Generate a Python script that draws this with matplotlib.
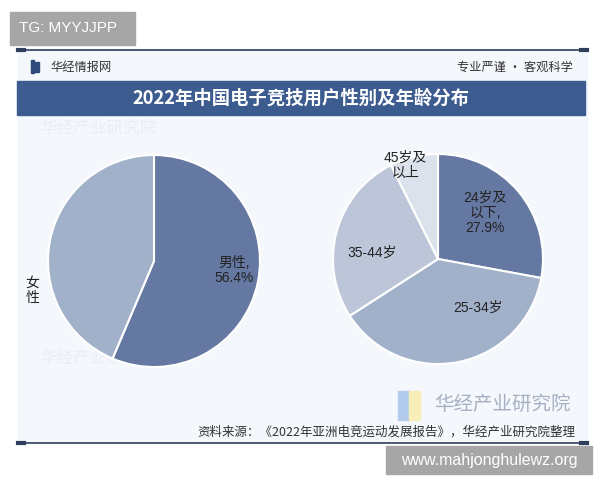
import matplotlib.pyplot as plt
from matplotlib.patches import Rectangle

plt.rcParams['font.family'] = ['Noto Sans CJK SC', 'DejaVu Sans']
LAT = ['Liberation Sans', 'Noto Sans CJK SC']

# data
gender_labels = ['男性,\n56.4%', '女\n性']
gender_share = [56.4, 43.6]
gender_colors = ['#6578a2', '#a2b1ca']

age_labels = ['24岁及\n以下,\n27.9%', '25-34岁', '35-44岁', '45岁及\n以上']
age_share = [27.9, 38.0, 26.7, 7.4]
age_colors = ['#6578a2', '#a2b1ca', '#bcc6d8', '#dce2eb']

# label spots, in pie radius units
gender_pos = [(0.76, -0.09), (-1.15, -0.28)]
age_pos = [(0.45, 0.44), (0.38, -0.46), (-0.63, 0.06), (-0.31, 0.89)]

W, H = 600, 480
fig = plt.figure(figsize=(6, 4.8), dpi=100)
fig.patch.set_facecolor('white')


def px(x, y, w, h):
    # pixel box (top-left origin) -> figure fraction
    return [x / W, 1 - (y + h) / H, w / W, h / H]


# background panel
bg = fig.add_axes(px(0, 0, W, H))
bg.set_xlim(0, W)
bg.set_ylim(H, 0)
bg.axis('off')
bg.add_patch(Rectangle((18, 50), 569, 393, color='#f4f7fb', zorder=0))

# top and bottom rules
for yy in (50, 443):
    bg.plot([18, 587], [yy, yy], color='#2e3f5e', lw=1.2, zorder=2)
    bg.plot([18, 24], [yy, yy], color='#2e3f5e', lw=3, zorder=2)
    bg.plot([581, 587], [yy, yy], color='#2e3f5e', lw=3, zorder=2)

# header
bg.add_patch(Rectangle((31, 60), 3, 13, color='#2e4a7a', zorder=2))
bg.add_patch(Rectangle((35, 62), 4, 10, color='#2e4a7a', zorder=2))
bg.text(50, 67, '华经情报网', fontsize=8.8, color='#333333', va='center', ha='left')
bg.text(573, 67, '专业严谨 • 客观科学', fontsize=8.8, color='#333333', va='center', ha='right')

# title bar
bg.add_patch(Rectangle((17, 81), 568, 34, color='#3c5b8f', zorder=2))
bg.text(301, 98, '2022年中国电子竞技用户性别及年龄分布', fontsize=13.2, fontweight='bold',
        color='white', va='center', ha='center', zorder=3)

# faint watermarks
bg.text(40, 128, '华经产业研究院', fontsize=12, color='#eaeef4', va='center', zorder=1)
bg.text(40, 358, '华经产业研究院', fontsize=12, color='#eaeef4', va='center', zorder=1)

# logo watermark
bg.add_patch(Rectangle((398, 391), 11, 29, color='#b3cbec', zorder=1))
bg.add_patch(Rectangle((409, 391), 11, 29, color='#f7eeb8', zorder=1))
bg.text(571, 404, '华经产业研究院', fontsize=14, color='#a7b0c2', va='center', ha='right', zorder=1)

# source
bg.text(575, 432, '资料来源：《2022年亚洲电竞运动发展报告》，华经产业研究院整理', fontsize=9,
        color='#333333', va='center', ha='right', zorder=3)

# overlay boxes
bg.add_patch(Rectangle((10, 12), 125, 33, color='#a6a6a6', zorder=4))
bg.text(19, 28.5, 'TG: MYYJJPP', fontsize=11, family=LAT, color='white', va='center',
        ha='left', zorder=5)
bg.add_patch(Rectangle((386, 446), 206, 28, color='#a6a6a6', zorder=4))
bg.text(489, 460, 'www.mahjonghulewz.org', fontsize=11.5, family=LAT, color='white',
        va='center', ha='center', zorder=5)

# gender pie
r = 106
ax1 = fig.add_axes(px(154 - r, 261 - r, 2 * r, 2 * r))
ax1.pie(gender_share, colors=gender_colors, startangle=90, counterclock=False,
        wedgeprops=dict(edgecolor='white', linewidth=1.5))
ax1.set_xlim(-1, 1)
ax1.set_ylim(-1, 1)
for lab, (x, y) in zip(gender_labels, gender_pos):
    ax1.text(x, y, lab, fontsize=10, family=LAT, color='#222222', ha='center', va='center',
             linespacing=1.1, clip_on=False)

# age pie
r2 = 105
ax2 = fig.add_axes(px(438 - r2, 259 - r2, 2 * r2, 2 * r2))
ax2.pie(age_share, colors=age_colors, startangle=90, counterclock=False,
        wedgeprops=dict(edgecolor='white', linewidth=1.5))
ax2.set_xlim(-1, 1)
ax2.set_ylim(-1, 1)
for lab, (x, y) in zip(age_labels, age_pos):
    ax2.text(x, y, lab, fontsize=10, family=LAT, color='#222222', ha='center', va='center',
             linespacing=1.1, clip_on=False)

fig.savefig('out.png', dpi=100)
